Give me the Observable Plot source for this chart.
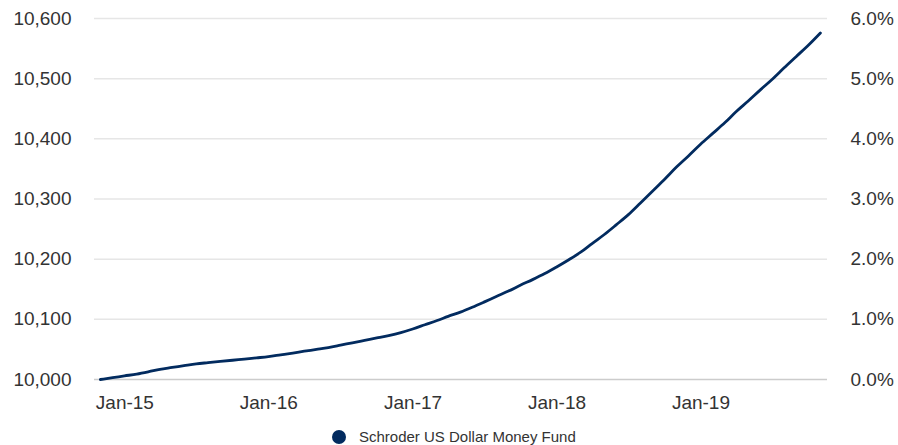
<!DOCTYPE html>
<html>
<head>
<meta charset="utf-8">
<script src="https://cdn.jsdelivr.net/npm/d3@7"></script>
<script src="https://cdn.jsdelivr.net/npm/@observablehq/plot@0.6"></script>
<style>
  body { margin: 0; background: #fff; font-family: "Liberation Sans", Arial, sans-serif; }
  #chart svg { display: block; }
  .legend { position: relative; height: 25px; }
  .legend .item { position: absolute; left: 332px; top: 8px; display: flex; align-items: center; font-size: 15px; color: #333; }
  .legend .dot { width: 14px; height: 14px; border-radius: 50%; background: #022b5f; margin-right: 13px; }
</style>
</head>
<body>
<div id="chart"></div>
<div class="legend"><div class="item"><span class="dot"></span><span>Schroder US Dollar Money Fund</span></div></div>
<script>
const seriesName = "Schroder US Dollar Money Fund";
const startMonth = "2014-10-31";
const values = [
  10000, 10003, 10006, 10009, 10013, 10017, 10020, 10023, 10026, 10028,
  10030, 10032, 10034, 10036, 10038, 10041, 10044, 10047, 10050, 10053,
  10057, 10061, 10065, 10069, 10073, 10078, 10084, 10091, 10098, 10105,
  10112, 10120, 10129, 10138, 10147, 10157, 10166, 10176, 10187, 10199,
  10212, 10226, 10241, 10257, 10274, 10293, 10313, 10333, 10353, 10372,
  10391, 10409, 10427, 10445, 10463, 10481, 10499, 10518, 10537, 10556,
  10576
];
const leftTicks = [10000, 10100, 10200, 10300, 10400, 10500, 10600];
const rightTickLabels = ["0.0%", "1.0%", "2.0%", "3.0%", "4.0%", "5.0%", "6.0%"];
const xTickDates = ["2015-01-01", "2016-01-01", "2017-01-01", "2018-01-01", "2019-01-01"];
const xTickLabels = ["Jan-15", "Jan-16", "Jan-17", "Jan-18", "Jan-19"];

const start = new Date(startMonth + "T00:00:00Z");
const data = values.map((v, i) => ({ date: d3.utcMonth.offset(start, i), value: v, name: seriesName }));
const xTicks = xTickDates.map(s => new Date(s + "T00:00:00Z"));

const x0 = d3.utcDay.offset(start, -15);
const x1 = d3.utcDay.offset(data[data.length - 1].date, 18);

const chart = Plot.plot({
  width: 898,
  height: 420,
  marginTop: 18,
  marginBottom: 41,
  marginLeft: 94,
  marginRight: 71,
  style: { fontFamily: "Liberation Sans, Arial, sans-serif", fontSize: "19px", color: "#333", background: "#fff" },
  x: { type: "utc", domain: [x0, x1] },
  y: { domain: [10000, 10600] },
  marks: [
    Plot.ruleY(leftTicks.slice(1), { stroke: "#e6e6e6", strokeWidth: 1.5 }),
    Plot.ruleY([10000], { stroke: "#cccccc", strokeWidth: 1.5 }),
    Plot.axisY({ anchor: "left", ticks: leftTicks, tickSize: 0, tickPadding: 23, tickFormat: d3.format(","), label: null, fill: "#333" }),
    Plot.axisY({ anchor: "right", ticks: leftTicks, tickSize: 0, tickPadding: 23, tickFormat: (d) => rightTickLabels[leftTicks.indexOf(d)], label: null, fill: "#333" }),
    Plot.axisX({ ticks: xTicks, tickSize: 0, tickPadding: 16, tickFormat: (d) => xTickLabels[xTicks.findIndex(t => +t === +d)], label: null, fill: "#333" }),
    Plot.lineY(data, { x: "date", y: "value", stroke: "#022b5f", strokeWidth: 2.8, curve: "monotone-x" })
  ]
});
document.getElementById("chart").appendChild(chart);
</script>
</body>
</html>
